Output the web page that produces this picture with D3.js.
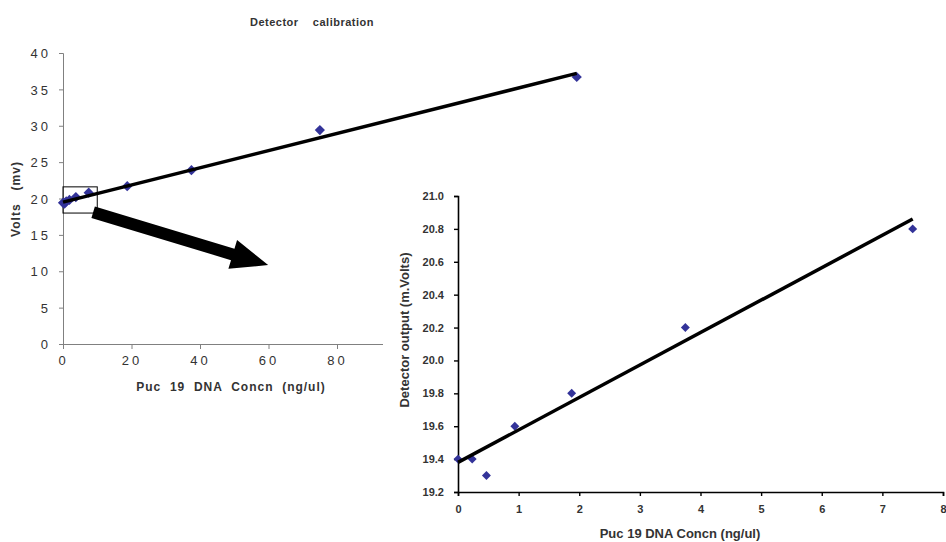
<!DOCTYPE html>
<html>
<head>
<meta charset="utf-8">
<script src="https://cdn.jsdelivr.net/npm/d3@7"></script>
<style>
  body { margin: 0; background: #fff; }
  svg text { font-family: "Liberation Sans", Arial, sans-serif; }
</style>
</head>
<body>
<div id="chart"></div>
<script>
// data
var concn = [0, 0.234, 0.469, 0.9375, 1.875, 3.75, 7.5, 18.75, 37.5, 75, 150];
var volts = [19.4, 19.4, 19.3, 19.6, 19.8, 20.2, 20.8, 21.7, 23.9, 29.4, 36.7];
var fitX = [0, 150];
var fitY = [19.5, 37.2];
var insetCount = 7;             // first 7 points go in the zoomed chart
var insetFitX = [0, 7.5];
var insetFitY = [19.38, 20.86];
var mainXTicks = [0, 20, 40, 60, 80, 100, 120, 140, 160];
var mainYTicks = [0, 5, 10, 15, 20, 25, 30, 35, 40];
var insetXTicks = [0, 1, 2, 3, 4, 5, 6, 7, 8];
var insetYTicks = [19.2, 19.4, 19.6, 19.8, 20.0, 20.2, 20.4, 20.6, 20.8, 21.0];
var zoomBox = { x0: 0, x1: 10, y0: 18, y1: 21.6 };
var arrowFrom = { x: 8.8, y: 18.1 }, arrowTo = { x: 59.9, y: 10.85 };

var W = 946, H = 542;
var svg = d3.select("#chart").append("svg")
    .attr("width", W)
    .attr("height", H);

var points = concn.map(function(c, i) { return { x: c, y: volts[i] }; });
var blue = "#333399";

// ---------- main chart ----------
var x = d3.scaleLinear().domain([0, 160]).range([63, 611]);
var y = d3.scaleLinear().domain([0, 40]).range([344, 53]);

var main = svg.append("g").attr("class", "main");

var xAxis = d3.axisBottom(x).tickValues(mainXTicks).tickSize(5).tickPadding(7)
    .tickFormat(d3.format("d"));
var yAxis = d3.axisLeft(y).tickValues(mainYTicks).tickSize(4).tickPadding(8)
    .tickFormat(d3.format("d"));

var gx = main.append("g")
    .attr("transform", "translate(0," + y(0) + ")")
    .call(xAxis);
var gy = main.append("g")
    .attr("transform", "translate(" + x(0) + ",0)")
    .call(yAxis);

[gx, gy].forEach(function(g) {
    g.selectAll("path, line").attr("stroke", "#808080");
    g.selectAll("text")
        .style("font-size", "13px")
        .style("letter-spacing", "3px")
        .attr("fill", "#333");
});
gy.selectAll("text").attr("dy", "0.36em");

// zoom box
main.append("rect")
    .attr("x", x(zoomBox.x0))
    .attr("y", y(zoomBox.y1))
    .attr("width", x(zoomBox.x1) - x(zoomBox.x0))
    .attr("height", y(zoomBox.y0) - y(zoomBox.y1))
    .attr("fill", "none")
    .attr("stroke", "#000")
    .attr("stroke-width", 1);

var diamond = d3.symbol().type(d3.symbolSquare);

main.selectAll(".pt")
    .data(points)
    .enter().append("path")
    .attr("class", "pt")
    .attr("d", diamond.size(52)())
    .attr("transform", function(d) { return "translate(" + x(d.x) + "," + y(d.y) + ") rotate(45)"; })
    .attr("fill", blue);

main.append("line")
    .attr("x1", x(fitX[0])).attr("y1", y(fitY[0]))
    .attr("x2", x(fitX[1])).attr("y2", y(fitY[1]))
    .attr("stroke", "#000")
    .attr("stroke-width", 3.5);

main.append("text")
    .attr("x", 312).attr("y", 26)
    .attr("text-anchor", "middle")
    .style("font-size", "11px")
    .style("font-weight", "bold")
    .style("letter-spacing", "0.5px")
    .style("white-space", "pre")
    .attr("fill", "#333")
    .text("Detector    calibration");

main.append("text")
    .attr("transform", "translate(20,199) rotate(-90)")
    .attr("text-anchor", "middle")
    .style("font-size", "12px")
    .style("font-weight", "bold")
    .style("letter-spacing", "1px")
    .style("white-space", "pre")
    .attr("fill", "#333")
    .text("Volts   (mv)");

main.append("text")
    .attr("x", 231).attr("y", 391)
    .attr("text-anchor", "middle")
    .style("font-size", "12px")
    .style("font-weight", "bold")
    .style("letter-spacing", "1px")
    .style("white-space", "pre")
    .attr("fill", "#333")
    .text("Puc  19  DNA  Concn  (ng/ul)");

// ---------- arrow ----------
var ax0 = x(arrowFrom.x), ay0 = y(arrowFrom.y);
var ax1 = x(arrowTo.x), ay1 = y(arrowTo.y);
var dx = ax1 - ax0, dy = ay1 - ay0, len = Math.sqrt(dx * dx + dy * dy);
var ux = dx / len, uy = dy / len, nx = -uy, ny = ux;
var shaftW = 6, headW = 15, headL = 37;
var bx = ax1 - ux * headL, by = ay1 - uy * headL;
var arrowPts = [
    [ax0 + nx * shaftW, ay0 + ny * shaftW],
    [bx + nx * shaftW, by + ny * shaftW],
    [bx + nx * headW, by + ny * headW],
    [ax1, ay1],
    [bx - nx * headW, by - ny * headW],
    [bx - nx * shaftW, by - ny * shaftW],
    [ax0 - nx * shaftW, ay0 - ny * shaftW]
];
svg.append("path")
    .attr("d", d3.line()(arrowPts) + "Z")
    .attr("fill", "#000");

// ---------- inset chart ----------
var inset = svg.append("g").attr("class", "inset");

inset.append("rect")
    .attr("x", 383).attr("y", 182)
    .attr("width", W - 383).attr("height", H - 182)
    .attr("fill", "#fff");

var ix = d3.scaleLinear().domain([0, 8]).range([458, 943]);
var iy = d3.scaleLinear().domain([19.2, 21.0]).range([492, 196]);

var igx = inset.append("g")
    .attr("transform", "translate(0," + iy(19.2) + ")")
    .call(d3.axisBottom(ix).tickValues(insetXTicks).tickSize(4).tickPadding(9)
        .tickFormat(d3.format("d")));
var igy = inset.append("g")
    .attr("transform", "translate(" + ix(0) + ",0)")
    .call(d3.axisLeft(iy).tickValues(insetYTicks).tickSize(4).tickPadding(10)
        .tickFormat(d3.format(".1f")));

[igx, igy].forEach(function(g) {
    g.select(".domain").attr("stroke", "#000").attr("stroke-width", 1.6);
    g.selectAll(".tick line").attr("stroke", "#000").attr("stroke-width", 1.4);
    g.selectAll("text")
        .style("font-size", "11px")
        .style("font-weight", "bold")
        .attr("fill", "#333");
});

inset.selectAll(".ipt")
    .data(points.slice(0, insetCount))
    .enter().append("path")
    .attr("class", "ipt")
    .attr("d", diamond.size(40)())
    .attr("transform", function(d) { return "translate(" + ix(d.x) + "," + iy(d.y) + ") rotate(45)"; })
    .attr("fill", blue);

inset.append("line")
    .attr("x1", ix(insetFitX[0])).attr("y1", iy(insetFitY[0]))
    .attr("x2", ix(insetFitX[1])).attr("y2", iy(insetFitY[1]))
    .attr("stroke", "#000")
    .attr("stroke-width", 3.5);

inset.append("text")
    .attr("transform", "translate(409,330) rotate(-90)")
    .attr("text-anchor", "middle")
    .style("font-size", "13px")
    .style("font-weight", "bold")
    .attr("fill", "#333")
    .text("Detector output (m.Volts)");

inset.append("text")
    .attr("x", 680).attr("y", 538)
    .attr("text-anchor", "middle")
    .style("font-size", "13px")
    .style("font-weight", "bold")
    .attr("fill", "#333")
    .text("Puc 19 DNA Concn (ng/ul)");
</script>
</body>
</html>
